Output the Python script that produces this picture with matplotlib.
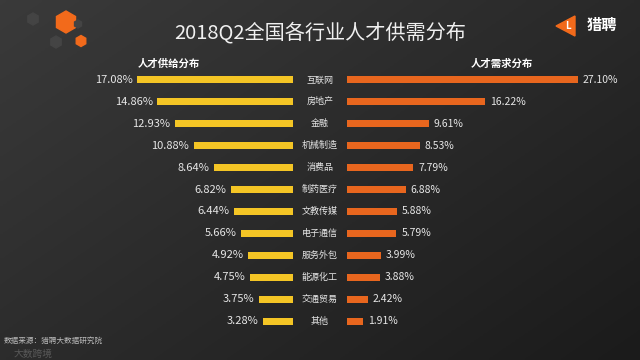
import numpy as np
import matplotlib
matplotlib.use("Agg")
import matplotlib.pyplot as plt
from matplotlib.transforms import blended_transform_factory
from matplotlib.patches import RegularPolygon, Polygon

plt.rcParams['font.family'] = ['Noto Sans CJK SC', 'DejaVu Sans']

# 数据
industries = ['互联网', '房地产', '金融', '机械制造', '消费品', '制药医疗',
              '文教传媒', '电子通信', '服务外包', '能源化工', '交通贸易', '其他']
supply = [17.08, 14.86, 12.93, 10.88, 8.64, 6.82, 6.44, 5.66, 4.92, 4.75, 3.75, 3.28]
demand = [27.10, 16.22, 9.61, 8.53, 7.79, 6.88, 5.88, 5.79, 3.99, 3.88, 2.42, 1.91]

yellow = '#F4C525'
orange = '#E8661E'
txt = '#E6E6E6'

W, H = 640, 360
fig = plt.figure(figsize=(6.4, 3.6), dpi=100)

# 背景渐变
bg = fig.add_axes([0, 0, 1, 1])
gx, gy = np.meshgrid(np.linspace(0, 1, 200), np.linspace(0, 1, 120))
grad = 0.55 * gx + 0.45 * gy
bg.imshow(grad, cmap=matplotlib.colors.LinearSegmentedColormap.from_list(
    'bg', ['#3a3a3a', '#1b1b1b']), extent=[0, W, H, 0], aspect='auto')
bg.set_xlim(0, W)
bg.set_ylim(H, 0)
bg.axis('off')

# 左上角装饰
bg.add_patch(RegularPolygon((66, 22), 6, radius=11, color='#F26A1B'))
bg.add_patch(RegularPolygon((81, 41), 6, radius=5.5, color='#F26A1B'))
for cx, cy, r in [(33, 19, 6), (56, 42, 6), (78, 24, 4)]:
    bg.add_patch(RegularPolygon((cx, cy), 6, radius=r, color='#444444'))

# 标题
bg.text(320, 33, '2018Q2全国各行业人才供需分布', color='#F0F0F0', fontsize=14.5,
        ha='center', va='center')

# logo
bg.add_patch(Polygon([[556, 26], [575, 16], [575, 36]], closed=True, color='#F26A1B'))
bg.text(568, 26, 'L', color='white', fontsize=7, fontweight='bold', ha='center', va='center')
bg.text(602, 25, '猎聘', color='white', fontsize=11, fontweight='bold', ha='center', va='center')

# 来源
bg.text(4, 341, '数据来源：猎聘大数据研究院', color='#BBBBBB', fontsize=5.5, va='center')
bg.text(14, 354, '大数跨境', color='#777777', fontsize=7, va='center', alpha=0.6)

# 条形图坐标
row_top, row_bot = 69, 332
ax_b = (H - row_bot) / H
ax_h = (row_bot - row_top) / H
n = len(industries)
ypos = np.arange(n)

left_px, split_l, split_r = 40, 293, 347
axL = fig.add_axes([left_px / W, ax_b, (split_l - left_px) / W, ax_h])
axR = fig.add_axes([split_r / W, ax_b, (W - split_r) / W, ax_h])
axL.set_xlim((split_l - left_px) / 9.13, 0)
axR.set_xlim(0, (W - split_r) / 8.52)
for ax in (axL, axR):
    ax.set_ylim(n - 0.5, -0.5)
    ax.axis('off')
    ax.patch.set_alpha(0)

axL.barh(ypos, supply, height=0.32, color=yellow)
axR.barh(ypos, demand, height=0.32, color=orange)

for i in range(n):
    axL.text(supply[i] + 0.5, i, f'{supply[i]:.2f}%', color=txt, fontsize=8,
             ha='right', va='center')
    axR.text(demand[i] + 0.6, i, f'{demand[i]:.2f}%', color=txt, fontsize=7.5,
             ha='left', va='center')

tr = blended_transform_factory(fig.transFigure, axL.transData)
for i, name in enumerate(industries):
    axL.text(320 / W, i, name, transform=tr, color=txt, fontsize=6.5,
             ha='center', va='center')

# 小标题
bg.text(169, 64, '人才供给分布', color='white', fontsize=7.5, fontweight='bold',
        ha='center', va='center')
bg.text(502, 64, '人才需求分布', color='white', fontsize=7.5, fontweight='bold',
        ha='center', va='center')

fig.savefig('out.png', dpi=100, facecolor='#262626')
